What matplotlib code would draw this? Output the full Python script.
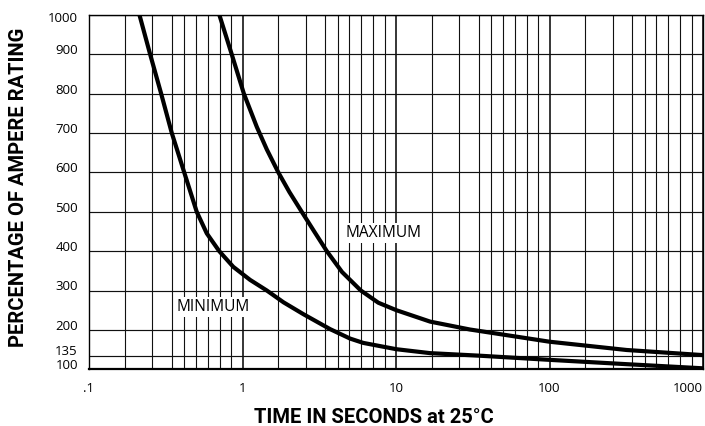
#!/usr/bin/env python3
"""
Time-current curve: percentage of ampere rating vs opening time (min / max)
"""
import matplotlib
matplotlib.use("Agg")
import matplotlib.pyplot as plt
from matplotlib import font_manager
from matplotlib.ticker import FixedLocator, NullFormatter
from matplotlib.transforms import ScaledTranslation

# minimum curve (seconds, percent)
min_time = [0.213, 0.250, 0.295, 0.346, 0.375, 0.417, 0.503, 0.585, 0.705,
            0.871, 1.12, 1.44, 1.85, 2.49, 3.72, 5.02, 6.12, 10.05, 16.7,
            35.2, 100, 318, 1000]
min_pct = [1000, 900, 800, 700, 657, 600, 500, 445, 400,
           360, 327, 300, 270, 240, 202, 178, 167, 151, 141,
           134.5, 124, 113, 102.5]

# maximum curve
max_time = [0.706, 0.850, 1.02, 1.24, 1.44, 1.71, 2.02, 2.43, 2.93, 3.54,
            4.45, 5.90, 7.67, 10.05, 16.7, 30.3, 100, 318, 1000]
max_pct = [1000, 900, 800, 715, 658, 600, 550, 500, 450, 400,
           347, 300, 269, 250, 221, 201, 170, 149, 136]

x_ticks = [0.1, 1, 10, 100, 1000]
x_ticklabels = [".1", "1", "10", "100", "1000"]
y_ticks = [100, 135, 200, 300, 400, 500, 600, 700, 800, 900, 1000]
y_ticklabels = [str(v) for v in y_ticks]

# the chart's grid is not a true log grid, lines sit at these decade fractions
grid_fractions = [0.2326, 0.4124, 0.539, 0.621, 0.695, 0.7726, 0.851, 0.927]

names = {f.name for f in font_manager.fontManager.ttflist}
bold_font = "Liberation Sans Narrow" if "Liberation Sans Narrow" in names else "Roboto"
text_font = "Open Sans"

W, H = 705, 426
fig = plt.figure(figsize=(W / 100, H / 100), dpi=100)
ax = fig.add_axes([89 / W, 1 - 369.3 / H, 614 / W, 354.6 / H])

ax.set_xscale("log")
ax.set_xlim(0.1, 1000)
ax.set_ylim(100, 1000)

ax.plot(min_time, min_pct, color="black", lw=3.0, solid_joinstyle="round", zorder=3)
ax.plot(max_time, max_pct, color="black", lw=3.0, solid_joinstyle="round", zorder=3)

# grid
minor = [10 ** (d + f) for d in range(-1, 3) for f in grid_fractions]
ax.xaxis.set_minor_locator(FixedLocator(minor))
ax.xaxis.set_minor_formatter(NullFormatter())
ax.set_xticks(x_ticks)
ax.set_xticklabels(x_ticklabels)
ax.set_yticks(y_ticks)
ax.set_yticklabels(y_ticklabels)
ax.grid(True, which="minor", axis="x", color="#111111", lw=0.8)
ax.grid(True, which="major", axis="x", color="#000000", lw=1.1)
ax.grid(True, which="major", axis="y", color="#111111", lw=0.85)
ax.set_axisbelow(True)

ax.tick_params(which="both", length=0)
ax.tick_params(axis="y", pad=8, labelsize=9.5)
ax.tick_params(axis="x", pad=9.5, labelsize=9.5)
for lab in ax.get_xticklabels() + ax.get_yticklabels():
    lab.set_fontfamily(text_font)
ax.get_xticklabels()[-1].set_ha("right")

# y labels sit a little above their lines (pixels)
shifts = [5, 5.5, 5, 5, 5, 5, 5, 5, 5, 5, -2]
for lab, dy in zip(ax.get_yticklabels(), shifts):
    lab.set_transform(lab.get_transform() + ScaledTranslation(0, dy / 100, fig.dpi_scale_trans))

for s in ax.spines.values():
    s.set_linewidth(1.0)
    s.set_color("black")
ax.spines["bottom"].set_linewidth(1.6)

ax.text(8.35, 447, "MAXIMUM", family=text_font, fontsize=11.2, ha="center", va="center",
        bbox=dict(facecolor="white", edgecolor="none", pad=1.5), zorder=4)
ax.text(0.642, 258, "MINIMUM", family=text_font, fontsize=11.2, ha="center", va="center",
        bbox=dict(facecolor="white", edgecolor="none", pad=1.5), zorder=4)

ax.set_xlabel("TIME IN SECONDS at 25°C", family=bold_font, fontweight="bold",
              fontsize=14.5, va="center")
ax.xaxis.set_label_coords(0.464, -0.137)
ax.set_ylabel("PERCENTAGE OF AMPERE RATING", family=bold_font, fontweight="bold",
              fontsize=14.5, va="center")
ax.yaxis.set_label_coords(-0.1148, 0.514)

fig.savefig("out.png", dpi=100)
